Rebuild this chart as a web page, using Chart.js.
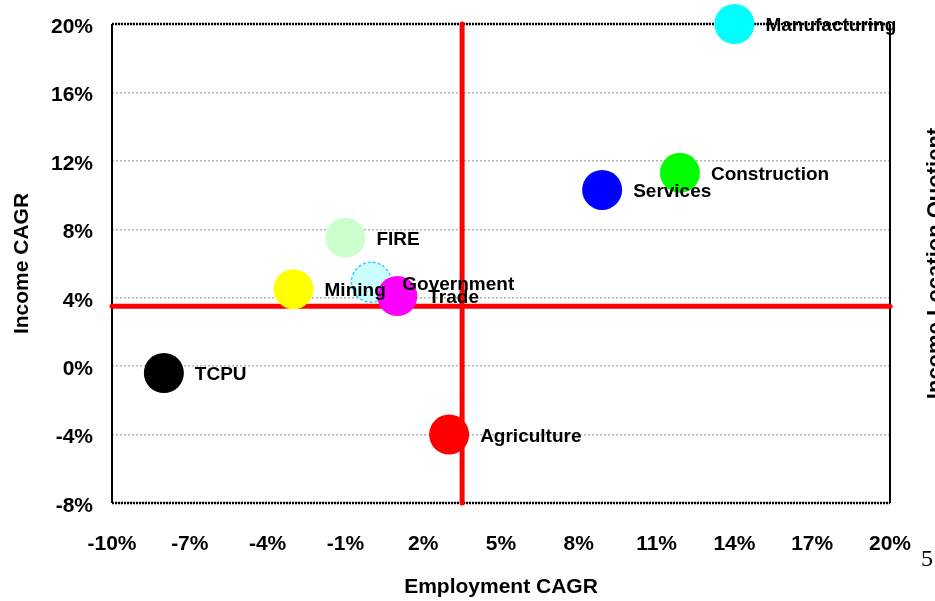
<!DOCTYPE html>
<html lang="en">
<head>
    <meta charset="utf-8">
    <title>Employment vs Income CAGR</title>
    <style>
        html, body { margin: 0; padding: 0; background: #fff; }
    </style>
</head>
<body>
<canvas id="myChart" width="935" height="601"></canvas>
<script src="https://cdn.jsdelivr.net/npm/chart.js"></script>
<script>
    // sector data (percent)
    var sectors = ['Agriculture', 'Mining', 'Construction', 'Manufacturing', 'TCPU', 'Government', 'Trade', 'FIRE', 'Services'];
    var employmentCagr = [3.0, -3.0, 11.9, 14.0, -8.0, 0.0, 1.0, -1.0, 8.9];
    var incomeCagr = [-4.0, 4.5, 11.3, 20.0, -0.4, 4.9, 4.1, 7.5, 10.3];
    var sectorColors = ['#ff0000', '#ffff00', '#00ff00', '#00ffff', '#000000', '#ccffff', '#ff00ff', '#ccffcc', '#0000ff'];

    // quadrant lines (averages)
    var avgEmployment = 3.5;
    var avgIncome = 3.5;

    var xMin = -10, xMax = 20, xStep = 3;
    var yMin = -8, yMax = 20, yStep = 4;

    var xTitle = 'Employment CAGR';
    var yTitle = 'Income CAGR';
    var rightTitle = 'Income Location Quotient';
    var rightTick = '5';

    var fontFamily = "'Liberation Sans', Arial, sans-serif";
    Chart.defaults.font.family = fontFamily;
    Chart.defaults.color = '#000';

    var datasets = [];
    for (var i = 0; i < sectors.length; i++) {
        datasets.push({
            label: sectors[i],
            isSector: true,
            data: [{x: employmentCagr[i], y: incomeCagr[i]}],
            backgroundColor: sectorColors[i],
            borderColor: sectors[i] === 'Government' ? '#33ccff' : sectorColors[i],
            borderWidth: sectors[i] === 'Government' ? 1.5 : 0,
            pointRadius: 20,
            pointHoverRadius: 20,
            order: sectors.length - i,
            clip: false
        });
    }
    // red average lines
    datasets.push({
        type: 'line',
        label: 'avgEmp',
        data: [{x: avgEmployment, y: yMin}, {x: avgEmployment, y: yMax}],
        borderColor: '#ff0000',
        borderWidth: 5,
        borderCapStyle: 'round',
        pointRadius: 0,
        order: 100,
        clip: false
    });
    datasets.push({
        type: 'line',
        label: 'avgInc',
        data: [{x: xMin, y: avgIncome}, {x: xMax, y: avgIncome}],
        borderColor: '#ff0000',
        borderWidth: 5,
        borderCapStyle: 'round',
        pointRadius: 0,
        order: 101,
        clip: false
    });

    var framePlugin = {
        id: 'frame',
        beforeDatasetsDraw: function (chart) {
            var a = chart.chartArea, ctx = chart.ctx;
            ctx.save();
            ctx.strokeStyle = '#000';
            ctx.lineWidth = 2;
            ctx.beginPath();
            ctx.moveTo(a.left, a.top); ctx.lineTo(a.left, a.bottom);
            ctx.moveTo(a.right, a.top); ctx.lineTo(a.right, a.bottom);
            ctx.stroke();
            ctx.setLineDash([2, 1]);
            ctx.lineWidth = 2.5;
            ctx.beginPath();
            ctx.moveTo(a.left, a.top); ctx.lineTo(a.right, a.top);
            ctx.moveTo(a.left, a.bottom); ctx.lineTo(a.right, a.bottom);
            ctx.stroke();
            ctx.restore();
        },
        beforeDatasetDraw: function (chart, args) {
            if (args.meta.label === 'Government') chart.ctx.setLineDash([3, 2]);
        },
        afterDatasetDraw: function (chart, args) {
            if (args.meta.label === 'Government') chart.ctx.setLineDash([]);
        }
    };

    var labelPlugin = {
        id: 'pointLabels',
        afterDatasetsDraw: function (chart) {
            var ctx = chart.ctx;
            ctx.save();
            ctx.font = 'bold 19px ' + fontFamily;
            ctx.fillStyle = '#000';
            ctx.textAlign = 'left';
            ctx.textBaseline = 'middle';
            chart.data.datasets.forEach(function (ds, i) {
                if (!ds.isSector) return;
                var pt = chart.getDatasetMeta(i).data[0];
                ctx.fillText(ds.label, pt.x + 31, pt.y + 2);
            });
            // leftover secondary axis text on the right edge
            ctx.save();
            ctx.translate(936, (chart.chartArea.top + chart.chartArea.bottom) / 2);
            ctx.rotate(-Math.PI / 2);
            ctx.textAlign = 'center';
            ctx.font = 'bold 22px ' + fontFamily;
            ctx.fillText(rightTitle, 0, 0);
            ctx.restore();
            ctx.font = "24px 'Liberation Serif', serif";
            ctx.textAlign = 'center';
            ctx.fillText(rightTick, 927, 560);
            ctx.restore();
        }
    };

    var ctx = document.getElementById('myChart').getContext('2d');
    var myChart = new Chart(ctx, {
        type: 'scatter',
        data: { datasets: datasets },
        options: {
            responsive: false,
            animation: false,
            devicePixelRatio: 1,
            layout: { padding: { left: 0, top: 24, right: 45, bottom: 0 } },
            plugins: {
                legend: { display: false },
                tooltip: { enabled: false }
            },
            scales: {
                x: {
                    type: 'linear',
                    min: xMin,
                    max: xMax,
                    afterFit: function (s) { s.height = 98; s.paddingLeft = 0; s.paddingRight = 0; },
                    grid: { display: false, drawTicks: false },
                    border: { display: false },
                    ticks: {
                        stepSize: xStep,
                        padding: 29,
                        font: { size: 21, weight: 'bold' },
                        callback: function (v) { return v + '%'; }
                    },
                    title: {
                        display: true,
                        text: xTitle,
                        font: { size: 21, weight: 'bold', lineHeight: 1 },
                        padding: { top: 0, bottom: 3 }
                    }
                },
                y: {
                    type: 'linear',
                    min: yMin,
                    max: yMax,
                    afterFit: function (s) { s.width = 112; s.paddingTop = 0; s.paddingBottom = 0; },
                    grid: { color: '#b4b4b4', lineWidth: 1.5, drawTicks: false },
                    border: { display: false, dash: [2, 2] },
                    ticks: {
                        stepSize: yStep,
                        padding: 19,
                        labelOffset: 3,
                        font: { size: 21, weight: 'bold' },
                        callback: function (v) { return v + '%'; }
                    },
                    title: {
                        display: true,
                        text: yTitle,
                        font: { size: 21, weight: 'bold', lineHeight: 1 },
                        padding: { top: 12, bottom: 0 }
                    }
                }
            }
        },
        plugins: [framePlugin, labelPlugin]
    });
</script>
</body>
</html>
